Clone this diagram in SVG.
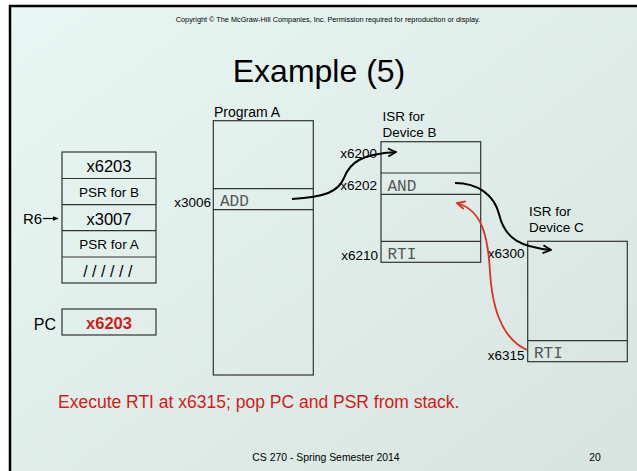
<svg xmlns="http://www.w3.org/2000/svg" width="637" height="471" viewBox="0 0 637 471">
<defs>
<linearGradient id="bg" x1="0" y1="0" x2="1" y2="1">
<stop offset="0" stop-color="#e9f7f4"/>
<stop offset="1" stop-color="#d6e3df"/>
</linearGradient>
<marker id="ab" viewBox="0 0 10 10" refX="9" refY="5" markerWidth="10" markerHeight="10" markerUnits="userSpaceOnUse" orient="auto">
<path d="M1,1 L9,5 L1,9" fill="none" stroke="#000" stroke-width="1.8"/>
</marker>
<marker id="ar" viewBox="0 0 10 10" refX="9" refY="5" markerWidth="10" markerHeight="10" markerUnits="userSpaceOnUse" orient="auto">
<path d="M1,1 L9,5 L1,9" fill="none" stroke="#e0301c" stroke-width="1.8"/>
</marker>
<marker id="af" viewBox="0 0 10 10" refX="9" refY="5" markerWidth="6" markerHeight="6" markerUnits="userSpaceOnUse" orient="auto">
<path d="M0,1 L10,5 L0,9 Z" fill="#000"/>
</marker>
</defs>
<style>
.box{fill:none;stroke:#333;stroke-width:1.2}
.t{font-family:"Liberation Sans",Arial,sans-serif;fill:#000}
.m{font-family:"Liberation Mono","Courier New",monospace;fill:#555;font-size:16px}
.lbl{font-family:"Liberation Sans",Arial,sans-serif;font-size:13.5px;fill:#000;text-anchor:end}
.cb{fill:none;stroke:#000;stroke-width:2}
.cr{fill:none;stroke:#e0301c;stroke-width:1.8}
</style>
<rect width="637" height="471" fill="#fff"/>
<rect x="10" y="6" width="640" height="480" fill="url(#bg)" stroke="#000" stroke-width="2.5"/>

<text class="t" x="328" y="22" font-size="7.3" text-anchor="middle">Copyright © The McGraw-Hill Companies, Inc.  Permission required for reproduction or display.</text>
<text class="t" x="319" y="82" font-size="32" text-anchor="middle">Example (5)</text>

<g id="stack">
<rect class="box" x="62" y="152" width="94" height="131"/>
<line class="box" x1="62" y1="178.5" x2="156" y2="178.5"/>
<line class="box" x1="62" y1="204.7" x2="156" y2="204.7"/>
<line class="box" x1="62" y1="230.7" x2="156" y2="230.7"/>
<line class="box" x1="62" y1="257" x2="156" y2="257"/>
<text class="t" x="109" y="172" font-size="16.5" text-anchor="middle">x6203</text>
<text class="t" x="109" y="197" font-size="13.5" text-anchor="middle">PSR for B</text>
<text class="t" x="109" y="224.5" font-size="16.5" text-anchor="middle">x3007</text>
<text class="t" x="109" y="249" font-size="13.5" text-anchor="middle">PSR for A</text>
<text class="t" x="110" y="277" font-size="16" text-anchor="middle" letter-spacing="4.5">//////</text>
</g>

<g id="r6">
<text class="t" x="23" y="224" font-size="15">R6</text>
<line x1="43" y1="218.5" x2="58" y2="218.5" stroke="#000" stroke-width="1.2" marker-end="url(#af)"/>
</g>

<g id="pc">
<text class="t" x="56" y="330" font-size="16" text-anchor="end">PC</text>
<rect class="box" x="62" y="309" width="94" height="26"/>
<text class="t" x="109" y="328.5" font-size="16.5" font-weight="bold" text-anchor="middle" style="fill:#d41a1a">x6203</text>
</g>

<g id="programA">
<text class="t" x="214" y="116.5" font-size="14">Program A</text>
<rect class="box" x="213.3" y="120.7" width="100" height="254.3"/>
<line class="box" x1="213.3" y1="188.7" x2="313.3" y2="188.7"/>
<line class="box" x1="213.3" y1="209.7" x2="313.3" y2="209.7"/>
<text class="m" x="220" y="205.5">ADD</text>
<text class="lbl" x="211" y="206.5">x3006</text>
</g>

<g id="isrB">
<text class="t" x="382.5" y="121" font-size="13.5">ISR for</text>
<text class="t" x="382.5" y="136.7" font-size="13.5">Device B</text>
<rect class="box" x="381" y="141.7" width="99.7" height="120.6"/>
<line class="box" x1="381" y1="173" x2="480.7" y2="173"/>
<line class="box" x1="381" y1="194.3" x2="480.7" y2="194.3"/>
<line class="box" x1="381" y1="241.3" x2="480.7" y2="241.3"/>
<text class="m" x="387.5" y="191">AND</text>
<text class="m" x="387.5" y="258.5">RTI</text>
<text class="lbl" x="377" y="158.3">x6200</text>
<text class="lbl" x="377" y="190">x6202</text>
<text class="lbl" x="378" y="260">x6210</text>
</g>

<g id="isrC">
<text class="t" x="529" y="216" font-size="13.5">ISR for</text>
<text class="t" x="529" y="232.3" font-size="13.5">Device C</text>
<rect class="box" x="527.7" y="241.3" width="99.6" height="120.4"/>
<line class="box" x1="527.7" y1="340.7" x2="627.3" y2="340.7"/>
<text class="m" x="534" y="357.7">RTI</text>
<text class="lbl" x="524.5" y="257.5">x6300</text>
<text class="lbl" x="524.5" y="360">x6315</text>
</g>

<g id="connectors">
<path class="cb" d="M292,199 C325,197 338,192 344,178 C350,162 362,154 396,152" marker-end="url(#ab)"/>
<path class="cb" d="M455,183 C478,183 494,195 499,214 C505,240 522,247 551,250" marker-end="url(#ab)"/>
<path class="cr" d="M527,350 C500,338 492,305 490,272 C488,236 482,210 457,203" marker-end="url(#ar)"/>
</g>

<text class="t" x="58" y="408" font-size="17.5" style="fill:#d41a1a">Execute RTI at x6315; pop PC and PSR from stack.</text>
<text class="t" x="326" y="461" font-size="10.4" text-anchor="middle">CS 270 - Spring Semester 2014</text>
<text class="t" x="595" y="461" font-size="10.4" text-anchor="middle">20</text>
</svg>
